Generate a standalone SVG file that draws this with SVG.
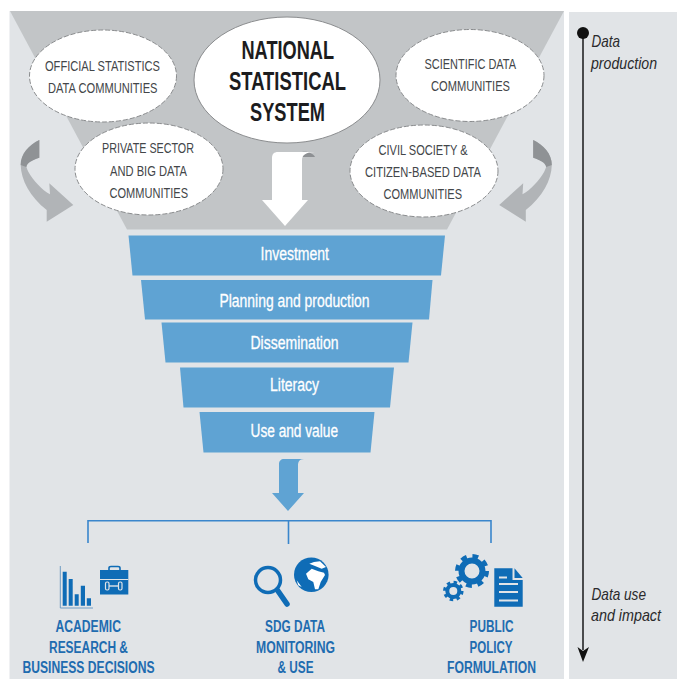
<svg xmlns="http://www.w3.org/2000/svg" width="677" height="679" viewBox="0 0 677 679">
<style>
text{font-family:"Liberation Sans",Arial,sans-serif}
.c{font-size:15.500px;fill:#434649}
.n{font-size:26px;font-weight:bold;fill:#1c1c1e}
.f{font-size:17.500px;fill:#fff;stroke:#fff;stroke-width:.3}
.i{font-size:17px;font-style:italic;fill:#2a2a2c}
.b{font-size:16px;font-weight:bold;fill:#1f6cb0}
.e{fill:#fff;stroke:#8a8c8e;stroke-width:1;stroke-dasharray:5 2}
.bar{fill:#5fa3d3}
.ic{fill:#0f6cb6}
.ln{fill:none;stroke:#3a86cc;stroke-width:1.600}
</style>
<defs>
<g id="curve">
<path d="M39.300 140C29 145 20.500 154 20.700 165C21 180 30 197 46.700 210L46.700 221.700L73.300 205L49.300 183.300L50 194.300C42 190 33 180 28.300 171.700C26.500 168 26 166 26.500 165C28 161 33 160 39.300 157.700Z" fill="#b1b4b7"/>
<path d="M39.300 140C29 145 20.500 154 20.700 165L26.300 167C27.500 162 33 160 39.300 157.700Z" fill="#8f9295"/>
</g>
</defs>
<rect id="panel-main" x="9.500" y="11" width="554.500" height="668" fill="#e1e4e7"/>
<rect id="panel-side" x="569" y="12" width="108" height="667" fill="#e1e4e7"/>
<path id="funnel-top" d="M10 11H564L447 229.500H127Z" fill="#c2c5c7"/>
<g id="curve-left"><use href="#curve"/></g>
<g id="curve-right"><use href="#curve" transform="translate(572.500 0) scale(-1 1)"/></g>

<g id="node-official"><ellipse class="e" cx="103" cy="76" rx="73.500" ry="46"/>
<text class="c" x="45" y="70.800" textLength="115" lengthAdjust="spacingAndGlyphs">OFFICIAL STATISTICS</text>
<text class="c" x="48" y="92.800" textLength="109.500" lengthAdjust="spacingAndGlyphs">DATA COMMUNITIES</text></g>
<g id="node-national"><ellipse cx="287" cy="80" rx="93" ry="63" fill="#fff" stroke="#8a8c8e" stroke-width="1"/>
<text class="n" x="241.500" y="59" textLength="92.500" lengthAdjust="spacingAndGlyphs">NATIONAL</text>
<text class="n" x="229" y="90" textLength="117" lengthAdjust="spacingAndGlyphs">STATISTICAL</text>
<text class="n" x="250" y="121" textLength="75" lengthAdjust="spacingAndGlyphs">SYSTEM</text></g>
<g id="node-scientific"><ellipse class="e" cx="470" cy="75.500" rx="74" ry="46"/>
<text class="c" x="424.500" y="69.300" textLength="91.500" lengthAdjust="spacingAndGlyphs">SCIENTIFIC DATA</text>
<text class="c" x="431" y="91.300" textLength="79" lengthAdjust="spacingAndGlyphs">COMMUNITIES</text></g>
<g id="node-private"><ellipse class="e" cx="149" cy="169" rx="74" ry="46"/>
<text class="c" x="102" y="153.300" textLength="92" lengthAdjust="spacingAndGlyphs">PRIVATE SECTOR</text>
<text class="c" x="110" y="176.300" textLength="77" lengthAdjust="spacingAndGlyphs">AND BIG DATA</text>
<text class="c" x="109.500" y="198.300" textLength="78.500" lengthAdjust="spacingAndGlyphs">COMMUNITIES</text></g>
<g id="node-civil"><ellipse class="e" cx="424" cy="171" rx="74" ry="46"/>
<text class="c" x="378.500" y="155.300" textLength="89" lengthAdjust="spacingAndGlyphs">CIVIL SOCIETY &amp;</text>
<text class="c" x="365" y="177.300" textLength="116" lengthAdjust="spacingAndGlyphs">CITIZEN-BASED DATA</text>
<text class="c" x="383.500" y="199.300" textLength="78.500" lengthAdjust="spacingAndGlyphs">COMMUNITIES</text></g>

<g id="connectors">
<path d="M302 152C307 151 313 153 315 157H302Z" fill="#8d9093"/>
<path d="M278 152H315C306 152 302 155 302 160V200H308L285 226L262 200H272V158C272 154 274 152 278 152Z" fill="#fff"/>
<path d="M284 459H304C299 459 298 462 298 466V493H304L288 511L272 493H279V464C279 461 281 459 284 459Z" fill="#5fa3d3"/>
<path class="ln" d="M88 543V520.800H491V543M288.500 520.800V544"/>
<path d="M583 33V650" stroke="#4a4b4d" stroke-width="2" fill="none"/>
<circle cx="583" cy="33" r="6" fill="#111"/>
<path d="M577.500 647L583 651L589 647L583 662Z" fill="#111"/>
</g>

<g id="node-investment"><path class="bar" d="M128.500 235.500H445L441 275.500H132.500Z"/><text class="f" x="260.500" y="260.300" textLength="68.500" lengthAdjust="spacingAndGlyphs">Investment</text></g>
<g id="node-planning"><path class="bar" d="M141 280H432.500L429 319.500H145Z"/><text class="f" x="219.500" y="306.800" textLength="150" lengthAdjust="spacingAndGlyphs">Planning and production</text></g>
<g id="node-dissemination"><path class="bar" d="M161.500 322.500H412.500L408.500 362.500H165.500Z"/><text class="f" x="250.500" y="349.300" textLength="88" lengthAdjust="spacingAndGlyphs">Dissemination</text></g>
<g id="node-literacy"><path class="bar" d="M180 367.500H394L390 407.500H183.500Z"/><text class="f" x="270" y="390.800" textLength="49" lengthAdjust="spacingAndGlyphs">Literacy</text></g>
<g id="node-use"><path class="bar" d="M199.500 412H374.500L370.500 452.500H203.500Z"/><text class="f" x="250.500" y="436.800" textLength="87.500" lengthAdjust="spacingAndGlyphs">Use and value</text></g>

<g id="node-academic">
<path d="M60.300 566V608H93" fill="none" stroke="#6f9cc4" stroke-width="1"/>
<path class="ic" d="M62.700 571.700H66.700V605.800H62.700ZM68.700 579H72.700V605.800H68.700ZM74.700 594.300H78.700V605.800H74.700ZM80.800 585.700H85V605.800H80.800ZM86.800 598.300H91V605.800H86.800Z"/>
<path d="M109 570.500V568C109 567 110 566.500 111 566.500H118C119 566.500 120 567 120 568V570.500" fill="none" stroke="#0f6cb6" stroke-width="1.600"/>
<rect class="ic" x="100" y="570" width="28.300" height="24.500"/>
<path d="M100 579.500H128.300" stroke="#e1e4e7" stroke-width="1"/>
<path d="M109 586H118" stroke="#e1e4e7" stroke-width="1.400"/>
<rect x="105.500" y="582" width="3.500" height="8" rx="1.500" fill="#0f6cb6" stroke="#e1e4e7" stroke-width="1.200"/>
<rect x="118.500" y="582" width="3.500" height="8" rx="1.500" fill="#0f6cb6" stroke="#e1e4e7" stroke-width="1.200"/>
<text class="b" x="55.500" y="632" textLength="65.500" lengthAdjust="spacingAndGlyphs">ACADEMIC</text>
<text class="b" x="49" y="652.500" textLength="79" lengthAdjust="spacingAndGlyphs">RESEARCH &amp;</text>
<text class="b" x="22.500" y="672.500" textLength="132" lengthAdjust="spacingAndGlyphs">BUSINESS DECISIONS</text>
</g>
<g id="node-sdg">
<circle cx="268" cy="580" r="12.500" fill="none" stroke="#0f6cb6" stroke-width="3.500"/>
<path d="M278 591L287 604" stroke="#0f6cb6" stroke-width="5.500" stroke-linecap="round"/>
<circle class="ic" cx="311.300" cy="574.700" r="17.300"/>
<path d="M306 573.700L311.700 568.700L318.300 571.300L324 572.700L325 575L320.700 582L318.300 589.300L315 589.300L313.300 582L308.300 579.300ZM309.300 563.700L314 562L320 561.300L326 567L321.700 568.700L315 566ZM296.700 580.300L301.700 587L298.300 585.300Z" fill="#fff"/>
<text class="b" x="265" y="632" textLength="60" lengthAdjust="spacingAndGlyphs">SDG DATA</text>
<text class="b" x="256" y="652.500" textLength="79" lengthAdjust="spacingAndGlyphs">MONITORING</text>
<text class="b" x="277.500" y="672.500" textLength="36" lengthAdjust="spacingAndGlyphs">&amp; USE</text>
</g>
<g id="node-policy">
<circle cx="472" cy="571" r="10.500" fill="none" stroke="#0f6cb6" stroke-width="6"/>
<circle cx="472" cy="571" r="14.500" fill="none" stroke="#0f6cb6" stroke-width="5" stroke-dasharray="5.700 5.690"/>
<circle cx="453.300" cy="591" r="6" fill="none" stroke="#0f6cb6" stroke-width="4"/>
<circle cx="453.300" cy="591" r="8.500" fill="none" stroke="#0f6cb6" stroke-width="3.500" stroke-dasharray="3.340 3.340"/>
<path class="ic" d="M494.300 568.300H512.500V580H522.700V606.700H494.300Z"/>
<path class="ic" d="M514.500 568.300L522.700 578H514.500Z"/>
<path d="M499 577.500H507M499 584H518M499 592H518M499 600.500H518" stroke="#e1e4e7" stroke-width="1.800"/>
<text class="b" x="469.500" y="632" textLength="44" lengthAdjust="spacingAndGlyphs">PUBLIC</text>
<text class="b" x="469.500" y="652.500" textLength="43" lengthAdjust="spacingAndGlyphs">POLICY</text>
<text class="b" x="447" y="672.500" textLength="89" lengthAdjust="spacingAndGlyphs">FORMULATION</text>
</g>

<g id="labels-side">
<text class="i" x="591.500" y="47" textLength="28.500" lengthAdjust="spacingAndGlyphs">Data</text>
<text class="i" x="591" y="69" textLength="66" lengthAdjust="spacingAndGlyphs">production</text>
<text class="i" x="591.500" y="599.500" textLength="54.500" lengthAdjust="spacingAndGlyphs">Data use</text>
<text class="i" x="591" y="621" textLength="70" lengthAdjust="spacingAndGlyphs">and impact</text>
</g>
</svg>
